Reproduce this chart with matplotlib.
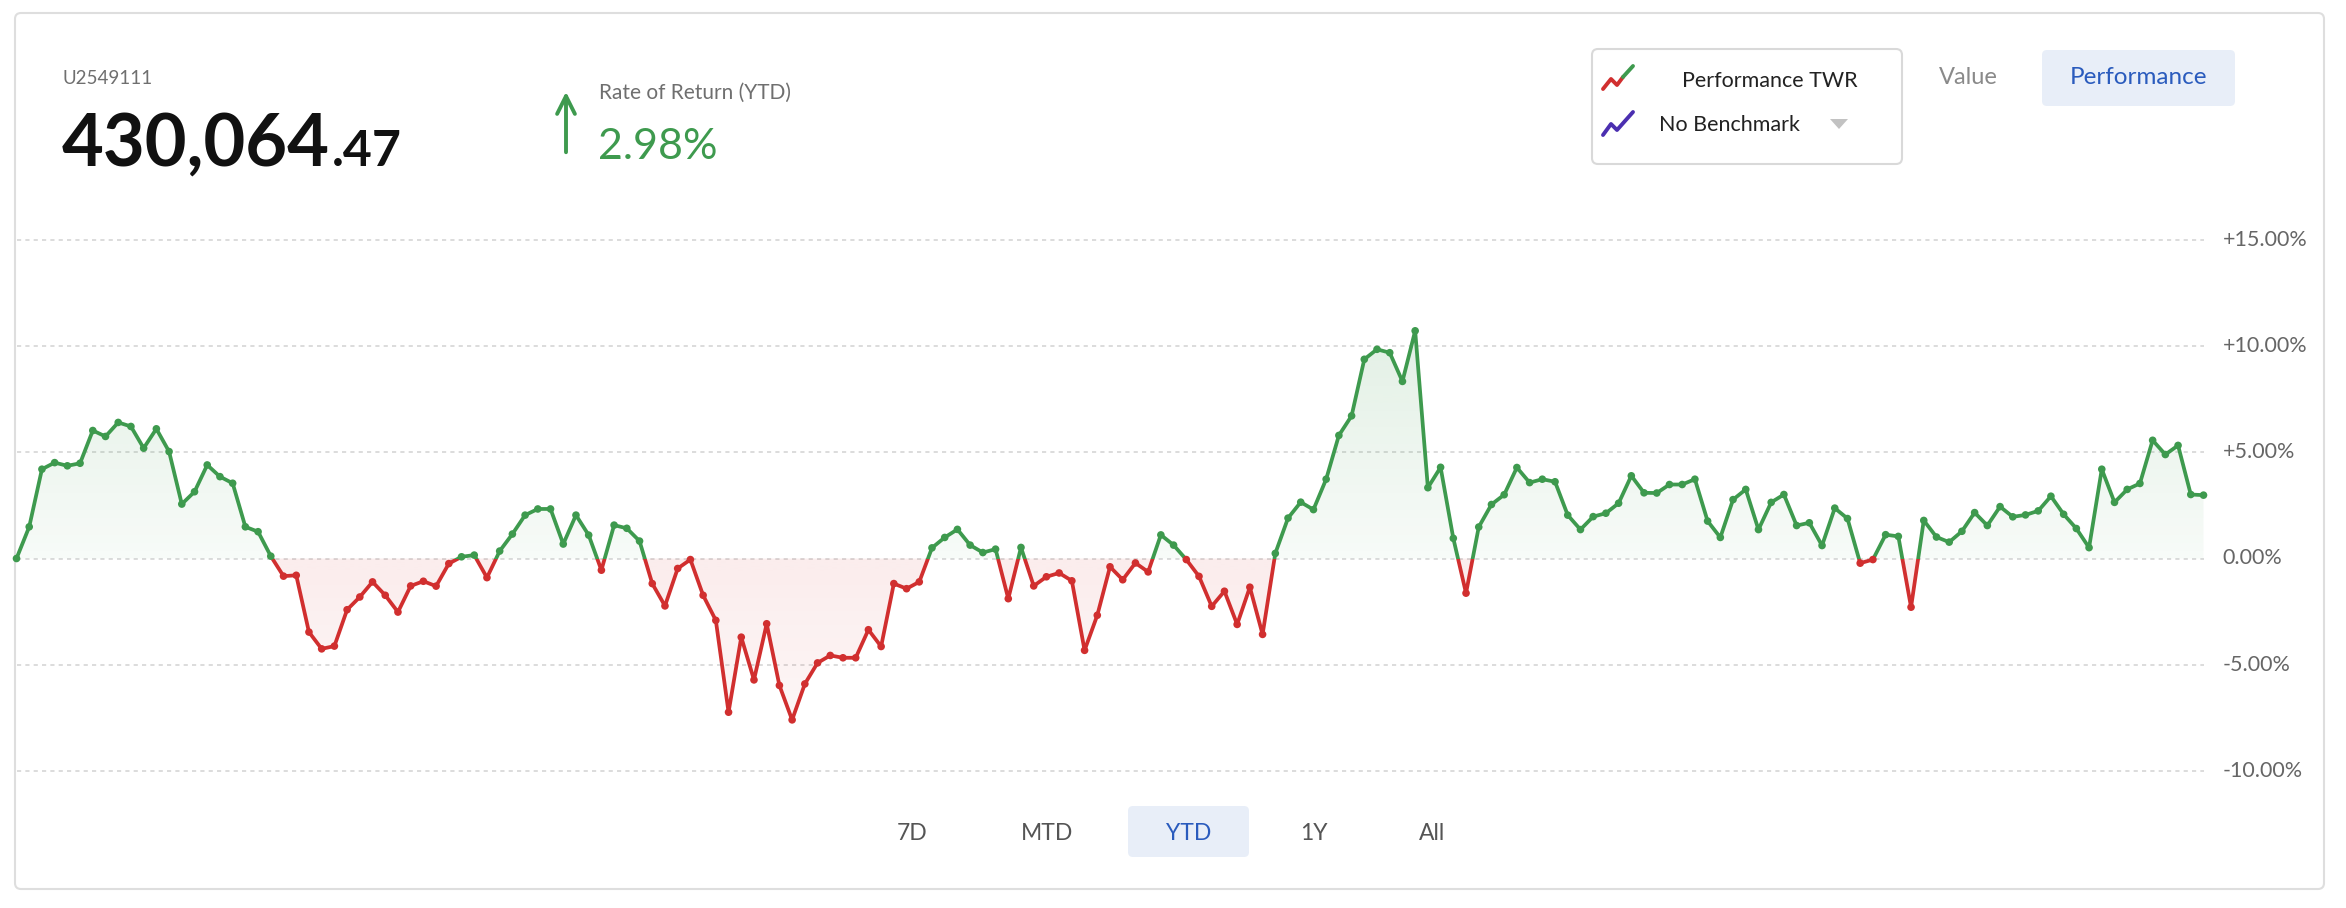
import numpy as np
import matplotlib
matplotlib.use("Agg")
import matplotlib.pyplot as plt
import matplotlib.patches as mpatches
from matplotlib.path import Path

# canvas in pixels
W, H = 2346, 908

# --- data (Performance TWR, % YTD) ---
twr = [0.00, 1.49, 4.20, 4.51, 4.36, 4.48, 6.02, 5.74, 6.40, 6.21,
       5.19, 6.10, 5.03, 2.56, 3.14, 4.40, 3.85, 3.54, 1.49, 1.26,
       0.11, -0.83, -0.79, -3.46, -4.25, -4.12, -2.41, -1.81, -1.10, -1.73,
       -2.52, -1.29, -1.07, -1.30, -0.24, 0.08, 0.16, -0.90, 0.35, 1.15,
       2.04, 2.33, 2.33, 0.68, 2.04, 1.10, -0.55, 1.57, 1.42, 0.82,
       -1.18, -2.23, -0.47, -0.05, -1.73, -2.91, -7.23, -3.70, -5.71, -3.07,
       -5.97, -7.59, -5.90, -4.91, -4.56, -4.67, -4.67, -3.35, -4.14, -1.18,
       -1.42, -1.10, 0.50, 0.99, 1.37, 0.63, 0.28, 0.44, -1.89, 0.52,
       -1.29, -0.86, -0.68, -1.05, -4.32, -2.67, -0.39, -1.00, -0.21, -0.63,
       1.11, 0.63, -0.05, -0.84, -2.25, -1.54, -3.10, -1.35, -3.57, 0.24,
       1.90, 2.65, 2.30, 3.73, 5.79, 6.71, 9.37, 9.84, 9.68, 8.33,
       10.71, 3.33, 4.29, 0.95, -1.63, 1.48, 2.54, 3.00, 4.28, 3.57,
       3.73, 3.61, 2.04, 1.36, 1.97, 2.13, 2.60, 3.89, 3.09, 3.08,
       3.48, 3.48, 3.73, 1.76, 0.99, 2.77, 3.25, 1.36, 2.64, 3.01,
       1.55, 1.68, 0.61, 2.37, 1.88, -0.22, -0.05, 1.12, 1.04, -2.29,
       1.79, 1.01, 0.77, 1.28, 2.16, 1.55, 2.44, 1.96, 2.05, 2.24,
       2.93, 2.08, 1.41, 0.51, 4.20, 2.64, 3.25, 3.53, 5.56, 4.89,
       5.32, 3.01, 2.98]

y_ticks = [15, 10, 5, 0, -5, -10]
y_tick_labels = ["+15.00%", "+10.00%", "+5.00%", "0.00%", "-5.00%", "-10.00%"]

account_id = "U2549111"
balance_int = "430,064"
balance_dec = ".47"
ror_label = "Rate of Return (YTD)"
ror_value = "2.98%"
range_buttons = ["7D", "MTD", "YTD", "1Y", "All"]
range_x = [912, 1047, 1189, 1314, 1432]

GREEN = "#3e9a4e"
RED = "#d12f2f"
BLUE = "#2a5bbd"
GRAY = "#6f6f6f"

plt.rcParams['font.family'] = ['Lato', 'DejaVu Sans']

fig = plt.figure(figsize=(W / 100, H / 100), dpi=100)
fig.patch.set_facecolor("white")

# background axes in pixel units for the card, texts and buttons
bg = fig.add_axes([0, 0, 1, 1], zorder=0)
bg.set_xlim(0, W)
bg.set_ylim(H, 0)
bg.axis("off")

card = mpatches.FancyBboxPatch((15, 13), 2309, 876, boxstyle="round,pad=0,rounding_size=6",
                               facecolor="white", edgecolor="#dedede", lw=1.5)
bg.add_patch(card)

# header
bg.text(63, 79, account_id, fontsize=13.5, color=GRAY, va="center", ha="left")
t_int = bg.text(62, 166, balance_int, fontsize=52, color="#111111", fontweight="bold",
                va="baseline", ha="left")
fig.canvas.draw()
bb = t_int.get_window_extent()
bg.text(bb.x1 + 2, 166, balance_dec, fontsize=36, color="#111111", fontweight="bold",
        va="baseline", ha="left")

bg.annotate("", xy=(566, 89), xytext=(566, 155),
            arrowprops=dict(arrowstyle="->", color=GREEN, lw=2.8, mutation_scale=32))
bg.text(599, 93, ror_label, fontsize=15, color=GRAY, va="center", ha="left")
bg.text(598, 159, ror_value, fontsize=31, color=GREEN, va="baseline", ha="left")

# legend box
leg = mpatches.FancyBboxPatch((1592, 49), 310, 115, boxstyle="round,pad=0,rounding_size=6",
                              facecolor="white", edgecolor="#d9d9d9", lw=1.5)
bg.add_patch(leg)
bg.plot([1603, 1611, 1617, 1623], [89, 79, 85, 77], color=RED, lw=2.8, solid_capstyle="round")
bg.plot([1623, 1633], [77, 66], color=GREEN, lw=2.8, solid_capstyle="round")
bg.plot([1603, 1611, 1617, 1633], [135, 124, 130, 112], color="#4b2fb0", lw=2.8,
        solid_capstyle="round")
bg.text(1682, 81, "Performance TWR", fontsize=15.5, color="#222222", va="center", ha="left")
bg.text(1659, 125, "No Benchmark", fontsize=15.5, color="#222222", va="center", ha="left")
bg.add_patch(mpatches.Polygon([[1830, 119], [1848, 119], [1839, 129]], closed=True,
                              facecolor="#c2c2c2", edgecolor="none"))

bg.text(1968, 77, "Value", fontsize=17, color="#8a8a8a", va="center", ha="center")
bg.add_patch(mpatches.FancyBboxPatch((2042, 50), 193, 56, boxstyle="round,pad=0,rounding_size=5",
                                     facecolor="#e8eef8", edgecolor="none"))
bg.text(2138, 77, "Performance", fontsize=17.5, color=BLUE, va="center", ha="center")

# range buttons
bg.add_patch(mpatches.FancyBboxPatch((1128, 806), 121, 51, boxstyle="round,pad=0,rounding_size=5",
                                     facecolor="#e8eef8", edgecolor="none"))
for lab, bx in zip(range_buttons, range_x):
    bg.text(bx, 833, lab, fontsize=16.5, color=BLUE if lab == "YTD" else "#555555",
            va="center", ha="center")

# --- chart axes ---
n = len(twr)
x = np.arange(n)
v = np.array(twr)
ymin, ymax = -11, 16
px_per_pct = 21.26
zero_px = 558.5
top_px = zero_px - ymax * px_per_pct
bot_px = zero_px - ymin * px_per_pct
left_px, right_px = 16.5, 2203.5
ax = fig.add_axes([left_px / W, 1 - bot_px / H, (right_px - left_px) / W, (bot_px - top_px) / H],
                  zorder=2)
ax.patch.set_visible(False)
ax.set_xlim(0, n - 1)
ax.set_ylim(ymin, ymax)
for s in ax.spines.values():
    s.set_visible(False)
ax.set_xticks([])
ax.set_yticks([])
for t in y_ticks:
    ax.axhline(t, color="#d6d6d6", lw=1.2, ls=(0, (2.5, 2.5)), zorder=1)
    ax.annotate(y_tick_labels[y_ticks.index(t)], xy=(1, t), xycoords=("axes fraction", "data"),
                xytext=(19, 0), textcoords="offset pixels", fontsize=15.5, color="#666666",
                va="center", ha="left", annotation_clip=False)

# gradient fills
pos = ax.fill_between(x, v, 0, where=v >= 0, interpolate=True, facecolor="none", edgecolor="none")
neg = ax.fill_between(x, v, 0, where=v <= 0, interpolate=True, facecolor="none", edgecolor="none")
g_img = np.zeros((100, 2, 4))
g_img[..., :3] = matplotlib.colors.to_rgb(GREEN)
g_img[..., 3] = np.linspace(0.15, 0.04, 100)[:, None]
im_g = ax.imshow(g_img, extent=(0, n - 1, 0, 11), origin="upper", aspect="auto", zorder=2,
                 interpolation="bilinear")
im_g.set_clip_path(Path.make_compound_path(*pos.get_paths()), ax.transData)
r_img = np.zeros((100, 2, 4))
r_img[..., :3] = matplotlib.colors.to_rgb(RED)
r_img[..., 3] = np.linspace(0.09, 0.04, 100)[:, None]
im_r = ax.imshow(r_img, extent=(0, n - 1, -8, 0), origin="upper", aspect="auto", zorder=2,
                 interpolation="bilinear")
im_r.set_clip_path(Path.make_compound_path(*neg.get_paths()), ax.transData)
ax.set_xlim(0, n - 1)
ax.set_ylim(ymin, ymax)

# line, green above zero and red below
up_clip = mpatches.Rectangle((-5, 0), n + 10, 40, transform=ax.transData)
dn_clip = mpatches.Rectangle((-5, -40), n + 10, 40, transform=ax.transData)
lg, = ax.plot(x, v, color=GREEN, lw=2.7, zorder=3, solid_joinstyle="round")
lg.set_clip_path(up_clip)
lr, = ax.plot(x, v, color=RED, lw=2.7, zorder=3, solid_joinstyle="round")
lr.set_clip_path(dn_clip)
ax.scatter(x, v, s=30, c=[GREEN if val >= 0 else RED for val in v], zorder=4,
           linewidths=0, clip_on=False)

fig.savefig("out.png", dpi=100, facecolor="white")
